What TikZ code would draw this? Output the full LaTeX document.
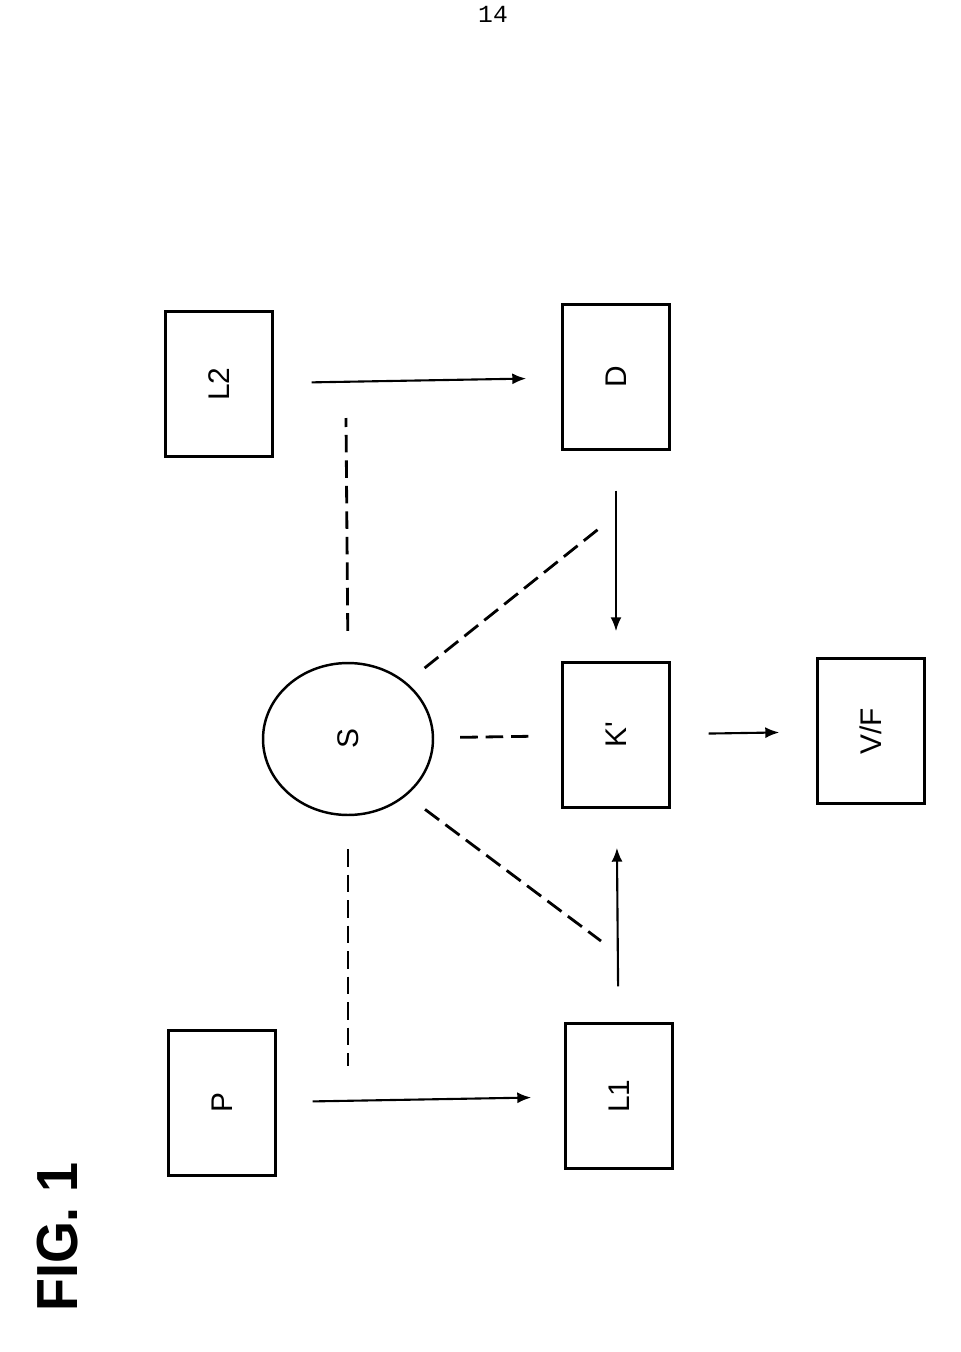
\documentclass[tikz,border=0pt]{standalone}
\usepackage{fontspec}
\setmainfont{Liberation Sans}
\newfontfamily\typewriter{Liberation Mono}
\usetikzlibrary{arrows.meta,shapes.geometric}

\begin{document}
\begin{tikzpicture}[x=0.02cm,y=-0.02cm]
\useasboundingbox (0,0) rectangle (960,1352);
\node (page) at (493,14) {\typewriter\fontsize{14}{16}\selectfont 14};
\node (fig) at (58,1237) {\rotatebox{90}{\scalebox{0.93}[1]{\fontsize{33}{36}\selectfont\bfseries FIG. 1}}};
\begin{scope}[every node/.style={rectangle,draw,line width=1.4pt,inner sep=0pt,
              minimum width=2.14cm,minimum height=2.9cm,font=\fontsize{17}{19}\selectfont}]
    \node (L2) at (219,384) {\rotatebox{90}{L2}};
    \node (D) at (616,377) {\rotatebox{90}{D}};
    \node (K) at (616,735) {\rotatebox{90}{K\textquotesingle}};
    \node (VF) at (871,731) {\rotatebox{90}{V/F}};
    \node (P) at (222,1103) {\rotatebox{90}{P}};
    \node (L1) at (619,1096) {\rotatebox{90}{L1}};
\end{scope}
\node[ellipse,draw,line width=1.4pt,inner sep=0pt,minimum width=3.4cm,minimum height=3.04cm,
      font=\fontsize{17}{19}\selectfont] (S) at (348,739) {\rotatebox{90}{S}};
\coordinate (top) at (346,418);
\coordinate (bot) at (348,1066);
\coordinate (upD) at (601,527);
\coordinate (upL) at (601,941);
\begin{scope}[every edge/.style={draw=black,line width=1.2pt,-{Latex[length=2.8mm,width=2.2mm]}}]
    \path (L2) edge[shorten <=0.76cm,shorten >=0.7cm] (D);
    \path (D) edge[shorten <=0.8cm,shorten >=0.6cm] (K);
    \path (L1) edge[shorten <=0.72cm,shorten >=0.78cm] (K);
    \path (P) edge[shorten <=0.72cm,shorten >=0.66cm] (L1);
    \path (K) edge[shorten <=0.76cm,shorten >=0.74cm] (VF);
\end{scope}
\begin{scope}[every edge/.style={draw=black,line width=1.6pt,dash pattern=on 10pt off 4.5pt}]
    \path (S.north) edge[shorten <=0.62cm] (top);
    \path (S.south) edge[shorten <=0.66cm] (bot);
    \path (S.44) edge[shorten <=0.46cm] (upD);
    \path (S.-44) edge[shorten <=0.46cm] (upL);
    \path (S) edge[shorten <=0.52cm,shorten >=0.66cm] (K);
\end{scope}
\end{tikzpicture}
\end{document}
